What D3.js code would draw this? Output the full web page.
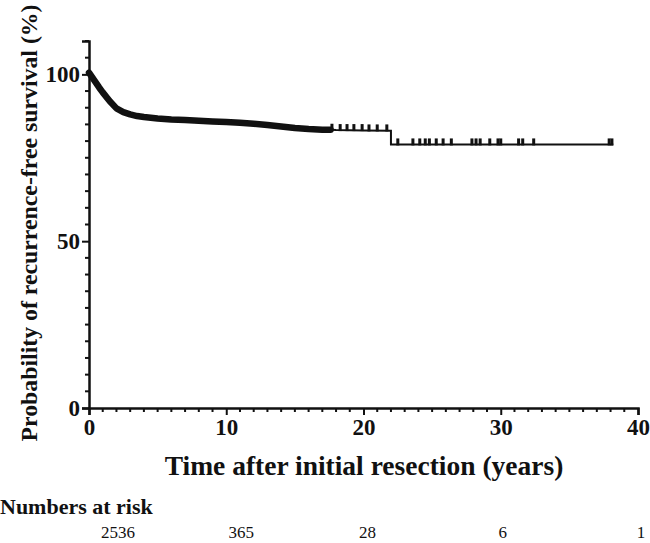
<!DOCTYPE html>
<html><head><meta charset="utf-8">
<script src="https://cdn.jsdelivr.net/npm/d3@7"></script>
<style>body{margin:0;background:#fff}svg{display:block}text{font-family:"Liberation Serif","Times New Roman",serif}</style>
</head><body><svg id="c" width="650" height="543"></svg>
<script>
// ---- data ----
const kmTimes = [0, 0.25, 0.5, 0.75, 1, 1.5, 2, 2.5, 3, 3.5, 4, 5, 6, 7, 8, 9, 10, 11, 12, 13, 14, 15, 16, 17, 17.6, 18, 20, 22.0, 22.0, 38.2];
const kmSurv  = [100.5, 99, 97.5, 96, 94.6, 92, 89.8, 88.7, 88, 87.5, 87.2, 86.8, 86.5, 86.3, 86.1, 85.9, 85.7, 85.5, 85.2, 84.8, 84.4, 83.9, 83.6, 83.4, 83.4, 83.3, 83.2, 83.1, 79.0, 79.0];
const denseCensorEnd = 17.6; // years: heavily censored region drawn as a thick band
const censorTimes = [17.7, 18.3, 18.8, 19.3, 19.9, 20.4, 21.0, 21.7, 22.5, 23.6, 24.1, 24.5, 24.8, 25.3, 25.8, 26.4, 27.9, 28.2, 28.5, 29.2, 29.8, 30.0, 31.3, 31.6, 32.4, 37.9, 38.1];
const xTicks = [0, 10, 20, 30, 40];
const yTicks = [0, 50, 100];
const riskTimes = [0, 10, 20, 30, 40];
const riskCounts = ["2536", "365", "28", "6", "1"];

// ---- layout ----
const svg = d3.select("#c");
const x = d3.scaleLinear().domain([0, 40]).range([89, 638]);
const y = d3.scaleLinear().domain([0, 110]).range([408, 41]);

// axes
const yAxis = d3.axisLeft(y).tickValues(yTicks).tickSize(7).tickPadding(2).tickFormat(d3.format("d"));
const gy = svg.append("g").attr("transform", `translate(${x(0)},0)`).call(yAxis);
const xAxis = d3.axisBottom(x).tickValues(xTicks).tickSize(7).tickPadding(4).tickFormat(d3.format("d"));
const gx = svg.append("g").attr("transform", `translate(0,${y(0)})`).call(xAxis);
[gx, gy].forEach(g => {
  g.select(".domain").attr("stroke", "#111").attr("stroke-width", 2.5);
  g.selectAll(".tick line").attr("stroke", "#111").attr("stroke-width", 2);
  g.selectAll(".tick text").attr("fill", "#111").attr("font-size", 23).attr("font-weight", "bold")
    .style("font-family", '"Liberation Serif", serif');
});
// minor ticks
svg.append("g").selectAll("line").data(d3.range(0, 111, 5).filter(v => v % 50 !== 0)).join("line")
  .attr("x1", x(0) - 4).attr("x2", x(0)).attr("y1", d => y(d)).attr("y2", d => y(d))
  .attr("stroke", "#111").attr("stroke-width", 2);
svg.append("g").selectAll("line").data(d3.range(0, 41, 1).filter(v => v % 10 !== 0)).join("line")
  .attr("x1", d => x(d)).attr("x2", d => x(d)).attr("y1", y(0)).attr("y2", y(0) + 4)
  .attr("stroke", "#111").attr("stroke-width", 2);

// curve
const pts = kmTimes.map((t, i) => [t, kmSurv[i]]);
const line = d3.line().x(d => x(d[0])).y(d => y(d[1]));
svg.append("path").attr("d", line(pts)).attr("fill", "none").attr("stroke", "#111").attr("stroke-width", 2);
svg.append("path").attr("d", line(pts.filter(d => d[0] <= denseCensorEnd)))
  .attr("fill", "none").attr("stroke", "#111").attr("stroke-width", 6.5).attr("stroke-linejoin", "round").attr("stroke-linecap", "round");

// censor marks
function survAt(t) {
  let s = kmSurv[0];
  for (let i = 0; i < kmTimes.length; i++) { if (kmTimes[i] <= t) s = kmSurv[i]; }
  return s;
}
svg.append("g").selectAll("rect").data(censorTimes).join("rect")
  .attr("x", d => x(d) - 1.5).attr("width", 3)
  .attr("y", d => y(survAt(d)) - 6).attr("height", 7).attr("fill", "#111");

// titles
svg.append("text").attr("transform", `translate(37,223) rotate(-90)`).attr("text-anchor", "middle")
  .attr("font-size", 23.8).attr("font-weight", "bold").attr("fill", "#111")
  .text("Probability of recurrence-free survival (%)");
svg.append("text").attr("x", 364).attr("y", 475).attr("text-anchor", "middle")
  .attr("font-size", 27.5).attr("font-weight", "bold").attr("fill", "#111")
  .text("Time after initial resection (years)");
svg.append("text").attr("x", 0).attr("y", 514)
  .attr("font-size", 22).attr("font-weight", "bold").attr("fill", "#111")
  .text("Numbers at risk");
const riskDx = [29, 15, 4, 2, 3];
svg.append("g").selectAll("text").data(riskCounts).join("text")
  .attr("x", (d, i) => x(riskTimes[i]) + riskDx[i]).attr("y", 538)
  .attr("text-anchor", "middle").attr("font-size", 17).attr("fill", "#111").text(d => d);
</script></body></html>
